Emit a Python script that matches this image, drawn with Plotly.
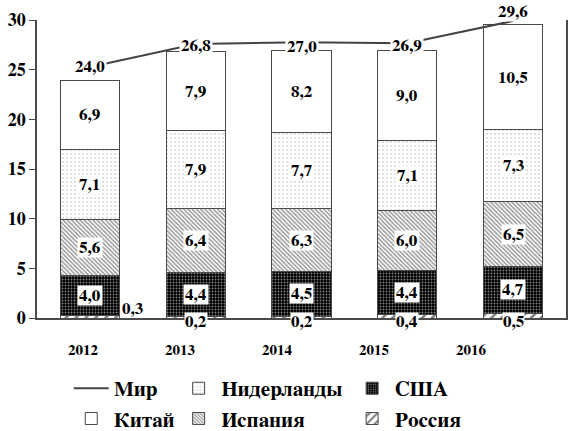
import plotly.graph_objects as go

years = ["2012", "2013", "2014", "2015", "2016"]
russia = [0.3, 0.2, 0.2, 0.4, 0.5]
usa = [4.0, 4.4, 4.5, 4.4, 4.7]
spain = [5.6, 6.4, 6.3, 6.0, 6.5]
netherlands = [7.1, 7.9, 7.7, 7.1, 7.3]
china = [6.9, 7.9, 8.2, 9.0, 10.5]
world = [24.0, 26.8, 27.0, 26.9, 29.6]

FONT = "Nimbus Roman, FreeSerif, Liberation Serif, DejaVu Serif"
EDGE = "#4a4a4a"


def fmt(v):
    return "<b>" + f"{v:.1f}".replace(".", ",") + "</b>"


fig = go.Figure()

# (name, values, pattern, legend, rank)
series = [
    ("Россия", russia, dict(shape="/", fgcolor="black", bgcolor="white", size=7, solidity=0.35), "legend3", 2),
    ("США", usa, dict(shape=".", fgcolor="white", bgcolor="black", size=3, solidity=0.3), "legend3", 1),
    ("Испания", spain, dict(shape="\\", fgcolor="#333333", bgcolor="white", size=3, solidity=0.5), "legend2", 2),
    ("Нидерланды", netherlands, dict(shape=".", fgcolor="#666666", bgcolor="white", size=4, solidity=0.12), "legend2", 1),
    ("Китай", china, dict(shape="", fgcolor="white", bgcolor="white"), "legend", 2),
]

for name, vals, pat, leg, rank in series:
    fig.add_trace(go.Bar(
        x=years, y=vals, name="<b>" + name + "</b>", width=0.56,
        marker=dict(color="white", line=dict(color=EDGE, width=1), pattern=pat),
        legend=leg, legendrank=rank, legendgroup=name, hoverinfo="skip",
    ))

fig.add_trace(go.Scatter(
    x=years, y=world, name="<b>Мир</b>", mode="lines", yaxis="y2",
    line=dict(color="#444444", width=2), legend="legend", legendrank=1,
    legendgroup="Мир", hoverinfo="skip",
))

fig.add_trace(go.Scatter(
    x=list(range(len(years))), y=[0] * len(years), xaxis="x2", mode="markers",
    marker=dict(opacity=0), showlegend=False, hoverinfo="skip",
))

ann = []
lab_font = dict(family=FONT, size=17, color="black")

base = list(russia)
for name, vals in [("США", usa), ("Испания", spain), ("Нидерланды", netherlands), ("Китай", china)]:
    for i in range(len(years)):
        mid = base[i] + vals[i] / 2
        ann.append(dict(x=i, y=mid, xref="x", yref="y", text=fmt(vals[i]),
                        showarrow=False, font=lab_font,
                        bgcolor="white", borderpad=1))
        base[i] += vals[i]

rus_xshift = [43, 0, 0, 0, 0]
rus_yshift = [10, -3, -3, -3, -3]
for i in range(len(years)):
    ann.append(dict(x=i, y=0, xref="x", yref="y", text=fmt(russia[i]),
                    showarrow=False, font=lab_font, bgcolor="white", borderpad=0,
                    xshift=rus_xshift[i], yshift=rus_yshift[i]))

world_yshift = [0, -2, -4, -2, 9]
for i in range(len(years)):
    ann.append(dict(x=i, y=world[i], xref="x", yref="y2", text=fmt(world[i]),
                    showarrow=False, font=lab_font, bgcolor="white", borderpad=1,
                    yshift=world_yshift[i]))

y2min, y2max = -6.57, 29.72

leg_common = dict(orientation="v", yref="container", y=0.146, xanchor="left",
                  yanchor="top", traceorder="normal", bgcolor="rgba(0,0,0,0)",
                  font=dict(family=FONT, size=21, color="black", weight="bold"),
                  itemwidth=35, tracegroupgap=10)

fig.update_layout(
    width=568, height=431,
    margin=dict(l=37, r=2, t=20, b=113, autoexpand=False),
    paper_bgcolor="white", plot_bgcolor="white",
    barmode="stack", bargap=0.44,
    font=dict(family=FONT, color="black"),
    annotations=ann,
    showlegend=True,
    legend=dict(x=0.06, **leg_common),
    legend2=dict(x=0.263, **leg_common),
    legend3=dict(x=0.591, **leg_common),
    xaxis=dict(type="category", range=[-0.5, 4.5], showticklabels=False, ticks="",
               showline=True, linecolor=EDGE, linewidth=1.5, showgrid=False, zeroline=False),
    xaxis2=dict(overlaying="x", anchor="y", side="bottom", range=[-0.474, 4.98],
                tickvals=list(range(len(years))), ticktext=["<b>" + y + "</b>" for y in years],
                showline=False, showgrid=False, zeroline=False, ticks="outside", ticklen=18,
                tickcolor="rgba(0,0,0,0)",
                tickfont=dict(family=FONT, size=15, color="black")),
    yaxis=dict(range=[0, 30], ticks="outside", ticklen=6, tickcolor=EDGE,
               tickvals=[0, 5, 10, 15, 20, 25, 30],
               ticktext=["<b>%d</b>" % v for v in [0, 5, 10, 15, 20, 25, 30]],
               showline=True, linecolor=EDGE, linewidth=1.5, showgrid=False, zeroline=False,
               tickfont=dict(family=FONT, size=18, color="black")),
    yaxis2=dict(overlaying="y", side="right", range=[y2min, y2max], showticklabels=False,
                tick0=y2min, dtick=(y2max - y2min) / 7, ticks="outside", ticklen=6,
                tickcolor=EDGE, showline=True, linecolor=EDGE, linewidth=1.5,
                showgrid=False, zeroline=False),
)

fig.write_html("out.html", config={"displayModeBar": False},
               post_script="document.body.style.margin='0';")
